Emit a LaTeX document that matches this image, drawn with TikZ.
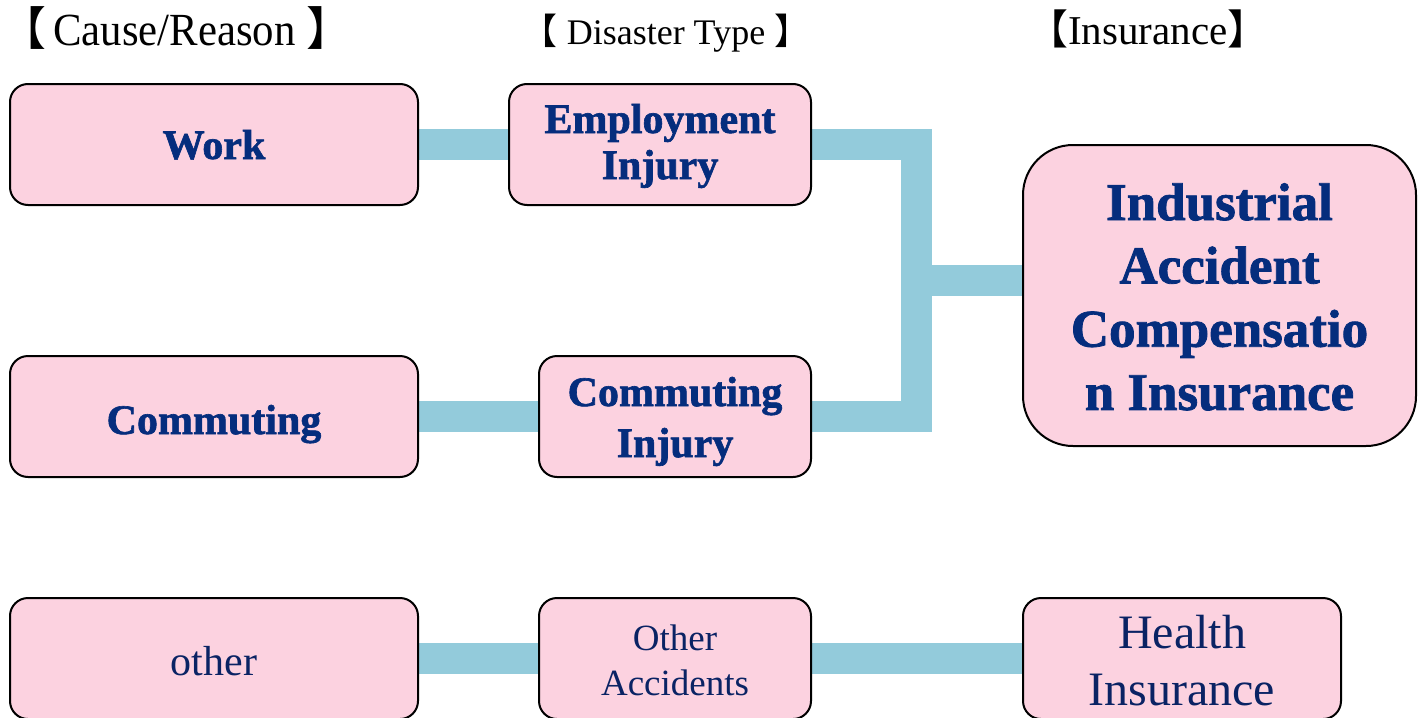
\documentclass[tikz,border=0pt]{standalone}
\usepackage{fontspec}
\setmainfont{Liberation Serif}[BoldFeatures={FakeBold=1.5}]
\newfontfamily\headfont{Liberation Serif}[FakeStretch=0.93]
\newfontfamily\cjk{Noto Sans CJK SC}
\usetikzlibrary{backgrounds}
\definecolor{boxpink}{RGB}{252,210,224}
\definecolor{connblue}{RGB}{147,203,219}
\definecolor{navy}{RGB}{5,45,125}
\definecolor{txtnavy}{RGB}{10,35,100}
\newcommand\topst[1]{\rule{0pt}{#1pt}}
\newcommand\botst[1]{\rule[-#1pt]{0pt}{#1pt}}
\newcommand\onest[2]{\rule[-#2pt]{0pt}{\dimexpr#1pt+#2pt\relax}}
\begin{document}
\begin{tikzpicture}[x=1pt,y=-1pt,
  box/.style={draw=black, line width=2pt, fill=boxpink, rounded corners=18pt, align=center, inner sep=0pt, minimum height=121pt},
  boldtxt/.style={text=navy, font=\fontsize{42}{46}\selectfont\bfseries},
  regtxt/.style={text=txtnavy},
  conn/.style={draw=connblue, line width=31pt, line join=miter, line cap=butt},
  head/.style={text=black, inner sep=0pt, anchor=base}]
\useasboundingbox (0,0) rectangle (1423,717);

\node[head, anchor=base west, font=\fontsize{46}{46}\selectfont] (h1) at (0,46) {{\cjk 【}\hspace{7pt}\headfont Cause/Reason {\cjk 】}};
\node[head, font=\fontsize{36}{36}\selectfont] (h2) at (666,45) {{\cjk 【} Disaster Type {\cjk 】}};
\node[head, font=\fontsize{41}{41}\selectfont] (h3) at (1148,45) {{\cjk 【}Insurance{\cjk 】}};

\node[box, boldtxt, minimum width=408pt] (work) at (214,144.5) {\onest{49}{20}Work};
\node[box, boldtxt, minimum width=302pt] (emp) at (660,144.5) {\topst{43}Employment\\Injury\botst{20}};
\node[box, boldtxt, minimum width=408pt] (comm) at (214,416.5) {\onest{55}{20}Commuting};
\node[box, boldtxt, font=\fontsize{42}{51}\selectfont\bfseries, minimum width=272pt] (commi) at (675,416.5) {\topst{45}Commuting\\Injury\botst{15}};
\node[box, text=navy, font=\fontsize{53}{63.3}\selectfont\bfseries, minimum width=393pt, minimum height=301pt, rounded corners=50pt] (ind) at (1219.5,295.5) {\topst{59}Industrial\\Accident\\Compensatio\\n Insurance\botst{20}};
\node[box, regtxt, font=\fontsize{42}{48}\selectfont, minimum width=408pt] (oth) at (214,658.5) {\onest{53}{20}other};
\node[box, regtxt, font=\fontsize{37}{45}\selectfont, minimum width=272pt] (otha) at (675,658.5) {\topst{48}Other\\Accidents\botst{20}};
\node[box, regtxt, font=\fontsize{48}{57}\selectfont, minimum width=318pt] (hins) at (1182,658.5) {\topst{48}Health\\Insurance\botst{12}};

\coordinate (jx) at (916.5,280.5);
\begin{scope}[on background layer]
\draw[conn] (work.east) -- (emp.west);
\draw[conn] (comm.east) -- (commi.west);
\draw[conn] (oth.east) -- (otha.west);
\draw[conn] (otha.east) -- (hins.west);
\draw[conn] (emp.east) -- (emp.east -| jx) -- (commi.east -| jx) -- (commi.east);
\draw[conn] (jx) -- (jx -| ind.west);
\end{scope}
\end{tikzpicture}
\end{document}
